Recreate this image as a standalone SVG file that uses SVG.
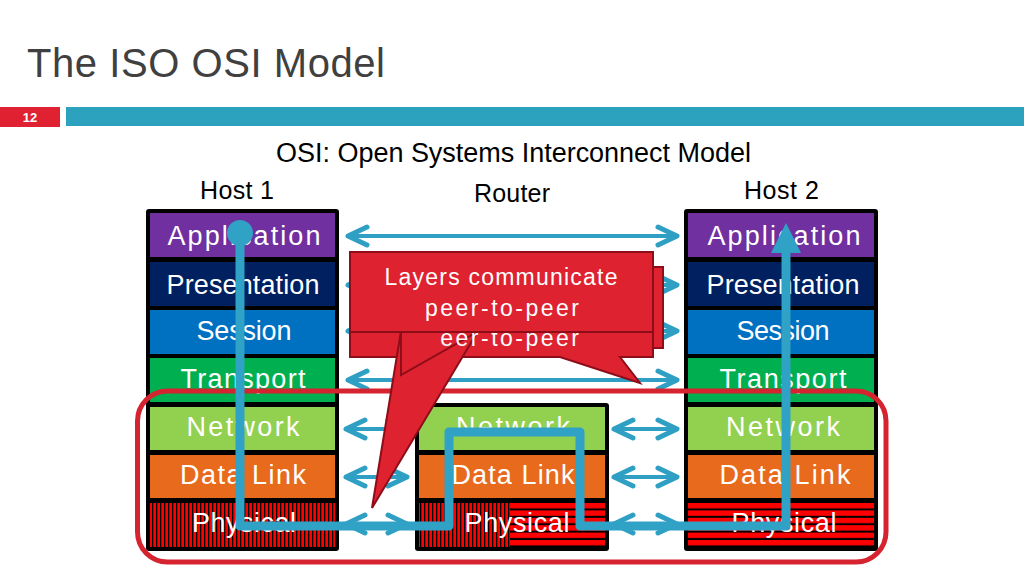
<svg xmlns="http://www.w3.org/2000/svg" width="1024" height="576" viewBox="0 0 1024 576">
<defs>
<style>
.t{font-family:"Liberation Sans",Arial,sans-serif;}
.lbl{font-family:"Liberation Sans",Arial,sans-serif;font-size:27px;fill:#ffffff;text-anchor:middle;}
.hdr{font-family:"Liberation Sans",Arial,sans-serif;font-size:25px;fill:#000000;}
.peer{stroke:#2FA0C4;stroke-width:4;fill:none;marker-start:url(#ah);marker-end:url(#ah);}
.ct{font-family:"Liberation Sans",Arial,sans-serif;font-size:23px;fill:#ffffff;text-anchor:middle;}
.cb{fill:#DE2230;stroke:#8E0D18;stroke-width:2;stroke-linejoin:miter;}
</style>
<marker id="ah" viewBox="-23 -13 27 26" refX="0" refY="0" markerWidth="27" markerHeight="26" markerUnits="userSpaceOnUse" orient="auto-start-reverse">
<path d="M-19,-9 L0,0 L-19,9" fill="none" stroke="#2FA0C4" stroke-width="5" stroke-linecap="round" stroke-linejoin="round"/>
</marker>
<pattern id="vstripe" patternUnits="userSpaceOnUse" width="4" height="8">
<rect width="4" height="8" fill="#FF0000"/>
<rect x="0" width="1.3" height="8" fill="#000000"/>
</pattern>
<pattern id="hstripe" patternUnits="userSpaceOnUse" width="8" height="7.4" y="503">
<rect width="8" height="7.4" fill="#FF0000"/>
<rect y="5.4" width="8" height="2" fill="#000000"/>
</pattern>
<clipPath id="backtext"><rect x="438" y="333" width="220" height="24"/></clipPath>
</defs>
<rect width="1024" height="576" fill="#ffffff"/>
<g id="header">
<text class="t" x="27" y="77" font-size="40" fill="#404040" textLength="358">The ISO OSI Model</text>
<rect x="0" y="107" width="60" height="20" fill="#DF2131"/>
<text class="t" x="30" y="122" font-size="13" font-weight="bold" fill="#ffffff" text-anchor="middle">12</text>
<rect x="66" y="107" width="958" height="19" fill="#2DA2BF"/>
<text class="t" x="276" y="162" font-size="27" fill="#000000" textLength="475">OSI: Open Systems Interconnect Model</text>
<text class="hdr" x="200" y="199" textLength="74">Host 1</text>
<text class="hdr" x="474" y="202" textLength="76">Router</text>
<text class="hdr" x="744" y="199" textLength="75">Host 2</text>
</g>
<g id="host1">
<rect x="146" y="209" width="193" height="342" rx="3" fill="#000000"/>
<rect x="150" y="213" width="185" height="44" fill="#7030A0"/>
<rect x="150" y="262" width="185" height="44" fill="#002060"/>
<rect x="150" y="310" width="185" height="44" fill="#0070C0"/>
<rect x="150" y="358" width="185" height="44" fill="#00B050"/>
<rect x="150" y="407" width="185" height="43" fill="#92D050"/>
<rect x="150" y="455" width="185" height="43" fill="#E86A1C"/>
<rect x="150" y="503" width="185" height="44" fill="url(#vstripe)"/>
<text class="lbl" x="244" y="245" textLength="153">Application</text>
<text class="lbl" x="243" y="294" textLength="153">Presentation</text>
<text class="lbl" x="244" y="340" textLength="95">Session</text>
<text class="lbl" x="243" y="388" textLength="125">Transport</text>
<text class="lbl" x="243" y="436" textLength="113">Network</text>
<text class="lbl" x="243" y="484" textLength="126">Data Link</text>
<text class="lbl" x="244" y="532" textLength="104">Physical</text>
</g>
<g id="router">
<rect x="415" y="403" width="194" height="148" rx="3" fill="#000000"/>
<rect x="419" y="407" width="186" height="43" fill="#92D050"/>
<rect x="419" y="455" width="186" height="43" fill="#E86A1C"/>
<rect x="419" y="503" width="91" height="44" fill="url(#vstripe)"/>
<rect x="510" y="503" width="95" height="44" fill="url(#hstripe)"/>
<text class="lbl" x="513" y="436" textLength="114">Network</text>
<text class="lbl" x="513" y="484" textLength="123">Data Link</text>
<text class="lbl" x="517" y="532" textLength="105">Physical</text>
</g>
<g id="host2">
<rect x="684" y="209" width="194" height="342" rx="3" fill="#000000"/>
<rect x="688" y="213" width="186" height="44" fill="#7030A0"/>
<rect x="688" y="262" width="186" height="44" fill="#002060"/>
<rect x="688" y="310" width="186" height="44" fill="#0070C0"/>
<rect x="688" y="358" width="186" height="44" fill="#00B050"/>
<rect x="688" y="407" width="186" height="43" fill="#92D050"/>
<rect x="688" y="455" width="186" height="43" fill="#E86A1C"/>
<rect x="688" y="503" width="186" height="44" fill="url(#hstripe)"/>
<text class="lbl" x="784" y="245" textLength="153">Application</text>
<text class="lbl" x="783" y="294" textLength="153">Presentation</text>
<text class="lbl" x="783" y="340" textLength="93">Session</text>
<text class="lbl" x="783" y="388" textLength="127">Transport</text>
<text class="lbl" x="783" y="436" textLength="114">Network</text>
<text class="lbl" x="785" y="484" textLength="131">Data Link</text>
<text class="lbl" x="784" y="532" textLength="105">Physical</text>
</g>
<g id="connectors">
<line class="peer" x1="348" y1="236" x2="677" y2="236"/>
<line class="peer" x1="348" y1="285" x2="677" y2="285"/>
<line class="peer" x1="348" y1="331" x2="677" y2="331"/>
<line class="peer" x1="348" y1="380" x2="677" y2="380"/>
<line class="peer" x1="346" y1="429" x2="407" y2="429"/>
<line class="peer" x1="614" y1="429" x2="677" y2="429"/>
<line class="peer" x1="346" y1="477" x2="407" y2="477"/>
<line class="peer" x1="614" y1="477" x2="677" y2="477"/>
<line class="peer" x1="346" y1="524" x2="407" y2="524"/>
<line class="peer" x1="614" y1="524" x2="677" y2="524"/>
</g>
<g id="network-scope">
<rect x="137.5" y="391" width="748.5" height="171" rx="30" fill="none" stroke="#D5232F" stroke-width="5"/>
</g>
<g id="data-path">
<path d="M240,233 V526 H449 V432 H580 V526 H786 V250" fill="none" stroke="#30A2C6" stroke-width="9" stroke-linejoin="round"/>
<circle cx="240" cy="233" r="13" fill="#30A2C6"/>
<polygon points="771,253 801,253 786,223" fill="#30A2C6"/>
</g>
<g id="callout-back">
<rect x="600" y="267" width="63" height="81" class="cb"/>
<path class="cb" d="M350,275 H653 V357 H620 L640,383 L560,357 H350 Z"/>
</g>
<g id="callout-front">
<polygon class="cb" points="401,331 478,331 372,508"/>
<polygon class="cb" points="401,332 401,375 477,332"/>
<text class="ct" x="502" y="346" textLength="154" clip-path="url(#backtext)">peer-to-peer</text>
<rect class="cb" x="350" y="252" width="303" height="80"/>
<text class="ct" x="501" y="285" textLength="233">Layers communicate</text>
<text class="ct" x="502" y="316" textLength="154">peer-to-peer</text>
</g>
</svg>
